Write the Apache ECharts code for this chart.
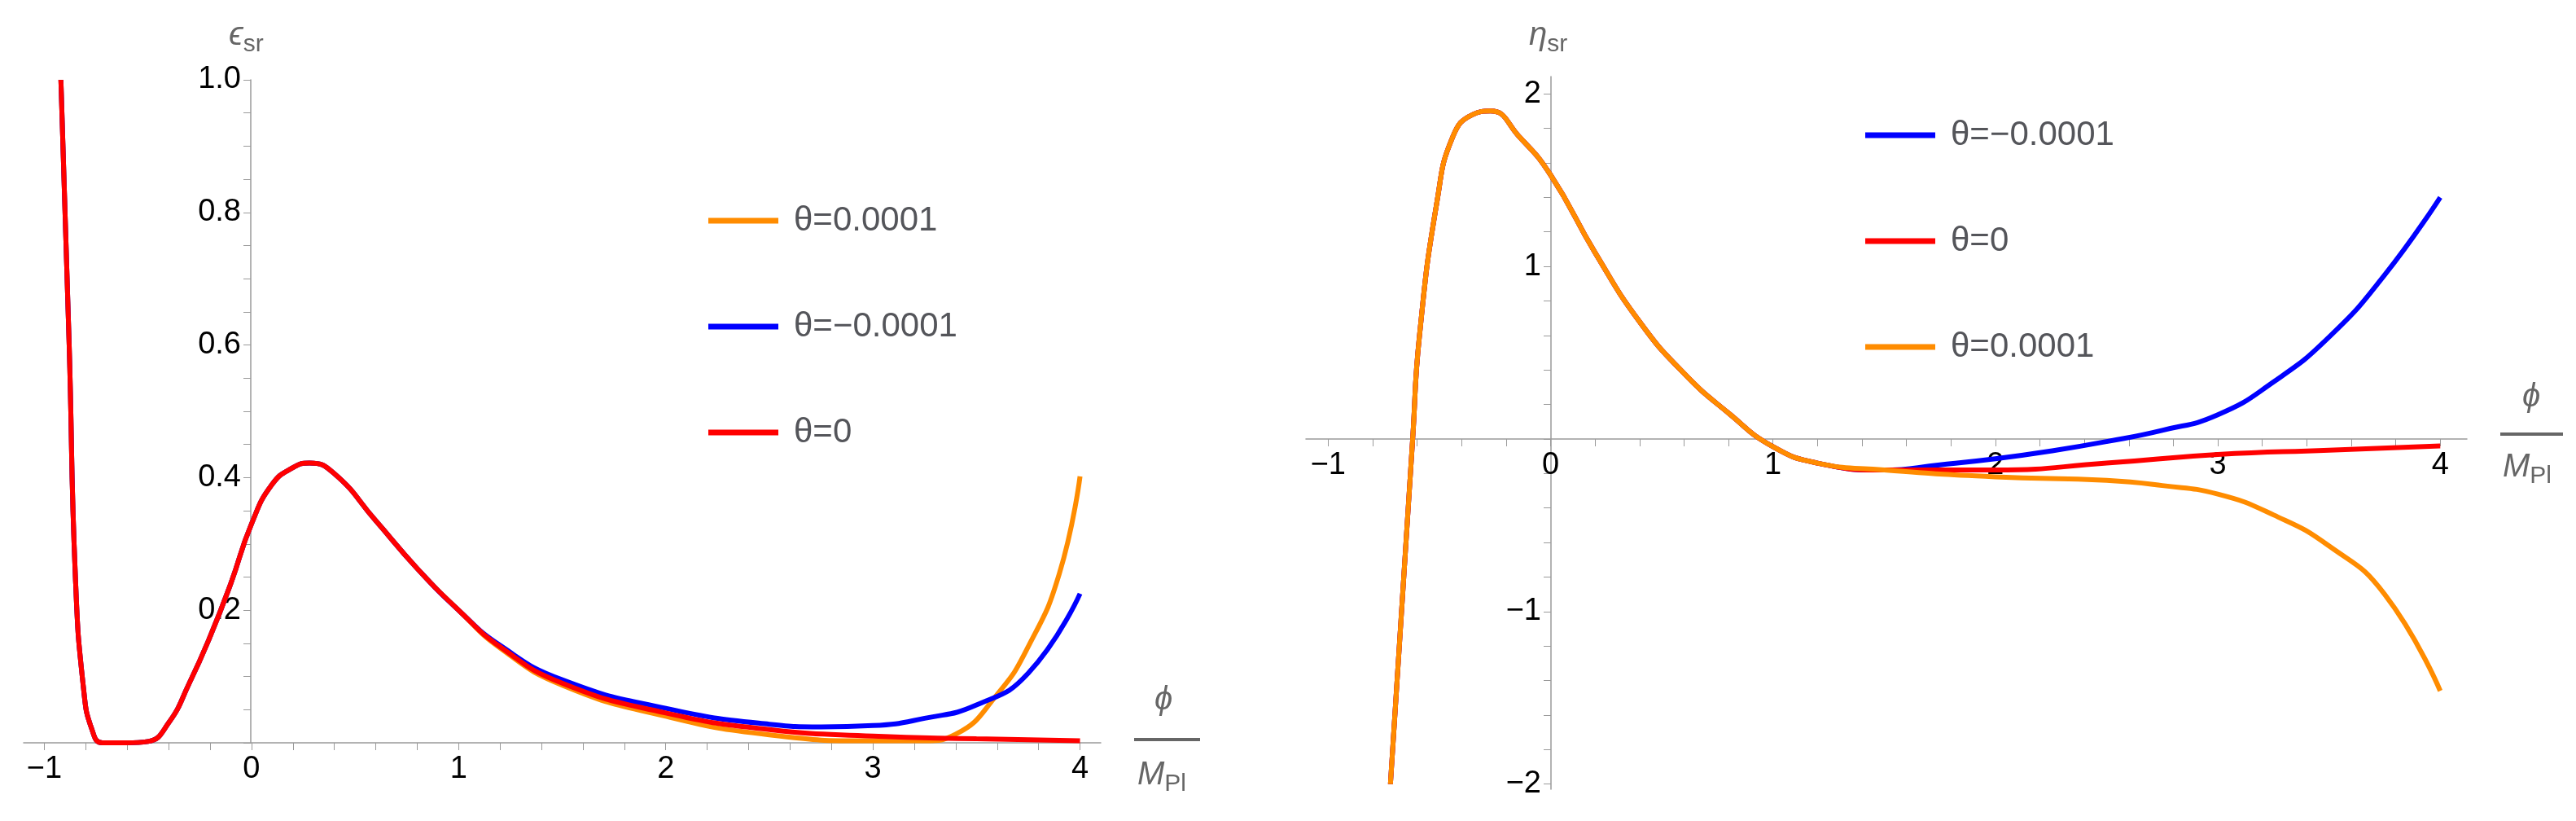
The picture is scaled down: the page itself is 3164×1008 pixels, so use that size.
<!DOCTYPE html>
<html><head><meta charset="utf-8">
<script src="https://cdn.jsdelivr.net/npm/echarts@6/dist/echarts.min.js"></script>
<style>html,body{margin:0;padding:0;background:#fff}#c{width:3164px;height:1008px}</style>
</head><body><div id="c"></div>
<script>
// Left panel: epsilon_sr
const epsX0 = [-0.92,-0.88,-0.85,-0.81,-0.77,-0.72,-0.6,-0.5,-0.4,-0.3,-0.2,-0.1,0,0.1,0.2,0.28,0.4,0.6,0.8,1.0,1.2,1.5,2.0,2.5,3.0,3.5,4.0];
const epsRed = [1.0,0.6,0.25,0.08,0.02,0.0,0.0,0.002,0.03,0.09,0.16,0.24,0.33,0.39,0.415,0.422,0.406,0.335,0.263,0.2,0.145,0.09,0.045,0.02,0.01,0.006,0.003];
const epsBlueX = [1.2,1.5,2.0,2.5,2.75,3.0,3.25,3.5,3.75,4.0];
const epsBlue = [0.147,0.095,0.052,0.028,0.024,0.026,0.037,0.057,0.105,0.225];
const epsOrangeX = [1.2,1.5,2.0,2.5,3.0,3.25,3.4,3.6,3.75,3.9,4.0];
const epsOrange = [0.143,0.087,0.04,0.012,0.003,0.003,0.013,0.073,0.145,0.255,0.402];
// Right panel: eta_sr
const etaX0 = [-0.72,-0.69,-0.66,-0.62,-0.59,-0.51,-0.44,-0.35,-0.27,-0.14,0,0.2,0.4,0.6,0.8,1.0,1.2,1.5];
const etaCommon = [-2.0,-1.4,-0.8,0.0,0.59,1.38,1.75,1.88,1.9,1.75,1.53,1.08,0.68,0.38,0.15,-0.045,-0.14,-0.18];
const etaBlueX = [1.5,1.75,2.0,2.25,2.5,2.75,3.0,3.25,3.5,3.75,4.0];
const etaBlue = [-0.165,-0.15,-0.115,-0.07,-0.015,0.05,0.14,0.33,0.59,0.95,1.4];
const etaRedX = [1.5,2.0,2.5,3.0,3.5,4.0];
const etaRed = [-0.185,-0.18,-0.14,-0.09,-0.065,-0.04];
const etaOrangeX = [1.5,2.0,2.5,2.75,3.0,3.25,3.5,3.75,4.0];
const etaOrange = [-0.21,-0.22,-0.24,-0.27,-0.32,-0.44,-0.62,-0.9,-1.46];
const xLabels = [-1,0,1,2,3,4];
const epsLabels = [0.2,0.4,0.6,0.8,1.0];
const etaLabels = [-2,-1,1,2];

const pair = (xs, ys) => xs.map((x,i)=>[x,ys[i]]);
const join = (a, b) => a.concat(b.filter(p => p[0] > a[a.length-1][0]));
const steps = (a,b,s) => { const r=[]; for(let v=a; v<=b+1e-9; v+=s) r.push(+v.toFixed(3)); return r; };

const FONT = "'Liberation Sans Narrow','Liberation Sans',sans-serif";
const C = {orange:'#ff8c00', blue:'#0000ff', red:'#ff0000'};
const axisGrey = '#9a9a9a';

function xAxis(grid, max, offset){
  return {type:'value', gridIndex:grid, min:-1.1, max:max, position:'bottom', offset:offset,
    axisLine:{onZero:false, lineStyle:{color:axisGrey,width:1.5}},
    axisTick:{customValues:steps(-1,4,0.2), length:9, lineStyle:{color:axisGrey}},
    axisLabel:{customValues:xLabels, color:'#000', fontSize:38, fontFamily:FONT, margin:14,
      formatter:v=>v<0?'\u2212'+Math.abs(v):String(v)},
    splitLine:{show:false}};
}
function yAxis(grid,min,max,tickStep,labels,fmt,offset){
  return {type:'value', gridIndex:grid, min:min, max:max, position:'left', offset:offset,
    axisLine:{onZero:false, lineStyle:{color:axisGrey,width:1.5}},
    axisTick:{customValues:steps(Math.ceil(min/tickStep)*tickStep,max,tickStep), length:9, lineStyle:{color:axisGrey}},
    axisLabel:{customValues:labels, color:'#000', fontSize:38, fontFamily:FONT, margin:12, formatter:fmt},
    splitLine:{show:false}};
}
const line = (name,color,data,xi,yi,z) => ({name, type:'line', xAxisIndex:xi, yAxisIndex:yi, data, smooth:0.5,
  showSymbol:false, symbol:'none', lineStyle:{color, width:6}, itemStyle:{color}, z, clip:true});

const redEps = pair(epsX0, epsRed);
const legendCommon = {orient:'vertical', itemGap:88, itemWidth:86, itemHeight:7, icon:'rect',
  textStyle:{fontSize:42, fontFamily:FONT, padding:[0,0,0,14]}, selectedMode:false};
const rich = (a,b)=>({text:'{i|'+a+'}{s|'+b+'}', rich:{i:{fontSize:40,fill:'#666',fontFamily:FONT,fontStyle:'italic'},s:{fontSize:30,fill:'#666',fontFamily:FONT,padding:[22,0,0,0]}}});
const opt = {
  animation:false,
  grid:[{left:29, top:98, width:1323, height:814},{left:1604, top:94, width:1426, height:875}],
  xAxis:[xAxis(0,4.1,0), xAxis(1,4.12,-430)],
  yAxis:[yAxis(0,0,1.0,0.05,epsLabels,v=>v.toFixed(1),-279),
         yAxis(1,-2.03,2.1,0.2,etaLabels,v=>v<0?'\u2212'+Math.abs(v):String(v),-301)],
  legend:[
    Object.assign({data:['θ=0.0001','θ=−0.0001','θ=0'], left:865, top:245}, legendCommon),
    Object.assign({data:['θ=−0.0001 ','θ=0 ','θ=0.0001 '], left:2286, top:140}, legendCommon)
  ],
  graphic:[
    {type:'text', left:281, top:24, style:rich('ϵ','sr')},
    {type:'text', left:1418, top:840, style:{text:'ϕ', fontSize:40, fill:'#666', fontFamily:FONT, fontStyle:'italic'}},
    {type:'line', shape:{x1:1393,y1:908,x2:1474,y2:908}, style:{stroke:'#666',lineWidth:4}},
    {type:'text', left:1397, top:932, style:rich('M','Pl')},
    {type:'text', left:1878, top:24, style:rich('η','sr')},
    {type:'text', left:3098, top:468, style:{text:'ϕ', fontSize:40, fill:'#666', fontFamily:FONT, fontStyle:'italic'}},
    {type:'line', shape:{x1:3071,y1:533,x2:3148,y2:533}, style:{stroke:'#666',lineWidth:4}},
    {type:'text', left:3074, top:554, style:rich('M','Pl')}
  ],
  series:[
    line('θ=0.0001',C.orange, join(redEps.filter(p=>p[0]<1.2), pair(epsOrangeX,epsOrange)),0,0,2),
    line('θ=−0.0001',C.blue, join(redEps.filter(p=>p[0]<1.2), pair(epsBlueX,epsBlue)),0,0,3),
    line('θ=0',C.red, redEps,0,0,4),
    line('θ=−0.0001 ',C.blue, join(pair(etaX0,etaCommon), pair(etaBlueX,etaBlue)),1,1,2),
    line('θ=0 ',C.red, join(pair(etaX0,etaCommon), pair(etaRedX,etaRed)),1,1,3),
    line('θ=0.0001 ',C.orange, join(pair(etaX0,etaCommon), pair(etaOrangeX,etaOrange)),1,1,4)
  ]
};
const ch = echarts.init(document.getElementById('c'));
ch.setOption(opt);
</script></body></html>
